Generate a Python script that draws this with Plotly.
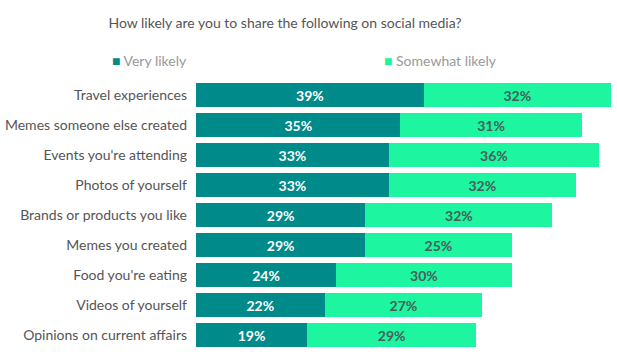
import plotly.graph_objects as go

categories = ["Travel experiences", "Memes someone else created", "Events you're attending",
              "Photos of yourself", "Brands or products you like", "Memes you created",
              "Food you're eating", "Videos of yourself", "Opinions on current affairs"]
very_likely = [39, 35, 33, 33, 29, 29, 24, 22, 19]
somewhat_likely = [32, 31, 36, 32, 32, 25, 30, 27, 29]

DARK = "#008a8a"
MINT = "#1df5a0"
FONT = "Lato"

fig = go.Figure()
fig.add_trace(go.Bar(
    y=categories, x=very_likely, orientation="h", name="Very likely",
    marker=dict(color=DARK, line=dict(width=0)),
    texttemplate="%{x}%", textposition="inside", insidetextanchor="middle",
    textfont=dict(color="white", size=14, family=FONT, weight="bold"),
    showlegend=False,
))
fig.add_trace(go.Bar(
    y=categories, x=somewhat_likely, orientation="h", name="Somewhat likely",
    marker=dict(color=MINT, line=dict(width=0)),
    texttemplate="%{x}%", textposition="inside", insidetextanchor="middle",
    textfont=dict(color="#45605a", size=14, family=FONT, weight="bold"),
    showlegend=False,
))

fig.update_layout(
    width=617, height=358,
    barmode="stack", bargap=0.17,
    margin=dict(l=194, r=5, t=80, b=8),
    paper_bgcolor="white", plot_bgcolor="white",
    font=dict(family=FONT, color="#555555"),
    title=dict(text="How likely are you to share the following on social media?",
               x=285 / 617, xanchor="center", y=1 - 23 / 358, yanchor="middle",
               font=dict(size=14, color="#555555", family=FONT)),
    xaxis=dict(range=[0, 71.2], visible=False, fixedrange=True),
    yaxis=dict(autorange="reversed", showgrid=False, zeroline=False, showline=False,
               ticks="", ticklabelstandoff=8, fixedrange=True,
               tickfont=dict(size=14, color="#555555", family=FONT)),
    uniformtext=dict(minsize=8, mode="show"),
)

fig.add_annotation(xref="paper", yref="paper", x=(108 - 194) / 418, y=(358 - 8 - 61) / 270,
                   xanchor="left", yanchor="middle", showarrow=False,
                   text=f'<span style="color:{DARK}">■</span> Very likely',
                   font=dict(size=14, color="#999999", family=FONT))
fig.add_annotation(xref="paper", yref="paper", x=(381 - 194) / 418, y=(358 - 8 - 61) / 270,
                   xanchor="left", yanchor="middle", showarrow=False,
                   text=f'<span style="color:{MINT}">■</span> Somewhat likely',
                   font=dict(size=14, color="#999999", family=FONT))

fig.write_html("out.html", config={"displayModeBar": False},
               post_script="document.body.style.margin='0';document.body.style.padding='0';")
